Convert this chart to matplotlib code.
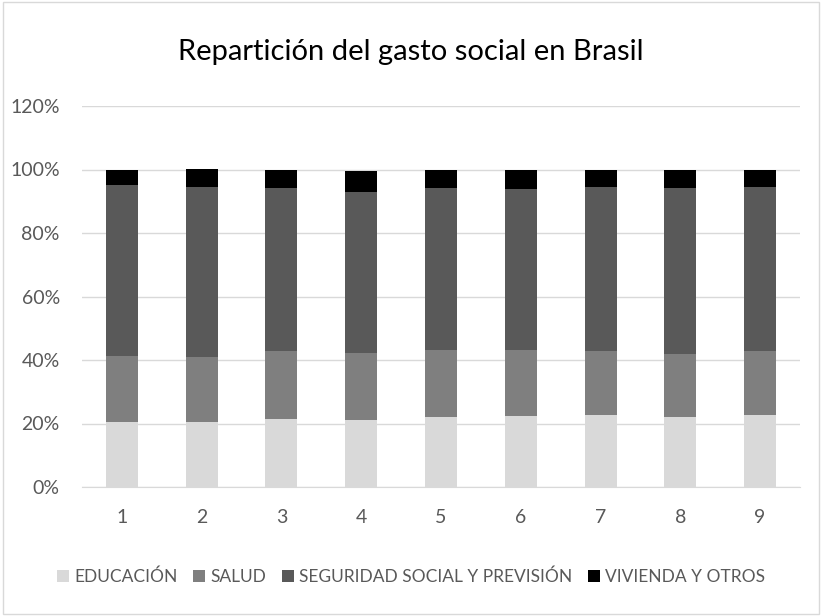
import numpy as np
import matplotlib
matplotlib.use("Agg")
import matplotlib.pyplot as plt
from matplotlib.patches import Rectangle

categories = ["1", "2", "3", "4", "5", "6", "7", "8", "9"]
educacion = [20.6, 20.6, 21.4, 21.0, 21.9, 22.4, 22.8, 21.9, 22.8]
salud = [20.8, 20.3, 21.3, 21.2, 21.2, 20.7, 19.9, 19.9, 19.9]
seguridad = [53.7, 53.7, 51.5, 50.7, 51.1, 50.7, 51.9, 52.4, 51.9]
vivienda = [4.9, 5.4, 5.8, 6.5, 5.8, 6.2, 5.4, 5.8, 5.4]
series_names = ["EDUCACIÓN", "SALUD", "SEGURIDAD SOCIAL Y PREVISIÓN", "VIVIENDA Y OTROS"]
colors = ["#d9d9d9", "#7f7f7f", "#595959", "#000000"]

plt.rcParams["font.family"] = ["Lato", "DejaVu Sans"]

fig = plt.figure(figsize=(8.22, 6.16), dpi=100)
ax = fig.add_axes([82 / 822, 1 - 487 / 616, 718 / 822, 381 / 616])

x = np.arange(len(categories))
bottom = np.zeros(len(categories))
for name, vals, c in zip(series_names, [educacion, salud, seguridad, vivienda], colors):
    ax.bar(x, vals, 0.4, bottom=bottom, color=c, label=name, zorder=2)
    bottom += np.array(vals)

ax.set_xlim(-0.5, 8.5)
ax.set_ylim(0, 120)
ax.set_yticks(np.arange(0, 121, 20))
ax.set_yticklabels([f"{v}%" for v in range(0, 121, 20)])
ax.set_xticks(x)
ax.set_xticklabels(categories)
ax.yaxis.grid(True, color="#d9d9d9", lw=1, zorder=0)
for s in ["top", "right", "left"]:
    ax.spines[s].set_visible(False)
ax.spines["bottom"].set_color("#d9d9d9")
ax.tick_params(length=0, labelsize=14, colors="#595959", pad=16)
ax.tick_params(axis="y", pad=16)

fig.text(0.5, 1 - 52 / 616, "Repartición del gasto social en Brasil",
         ha="center", va="center", fontsize=21, color="#000000")

ax.legend(loc="center", bbox_to_anchor=(0.5, (616 - 577) / 616), bbox_transform=fig.transFigure,
          ncol=4, frameon=False, fontsize=12.5, labelcolor="#595959",
          handlelength=0.7, handleheight=0.7, handletextpad=0.3, columnspacing=0.9)

fig.patches.append(Rectangle((3 / 822, 2 / 616), 816 / 822, 612 / 616, transform=fig.transFigure,
                             fill=False, edgecolor="#d9d9d9", lw=1))

fig.savefig("out.png", dpi=100)
